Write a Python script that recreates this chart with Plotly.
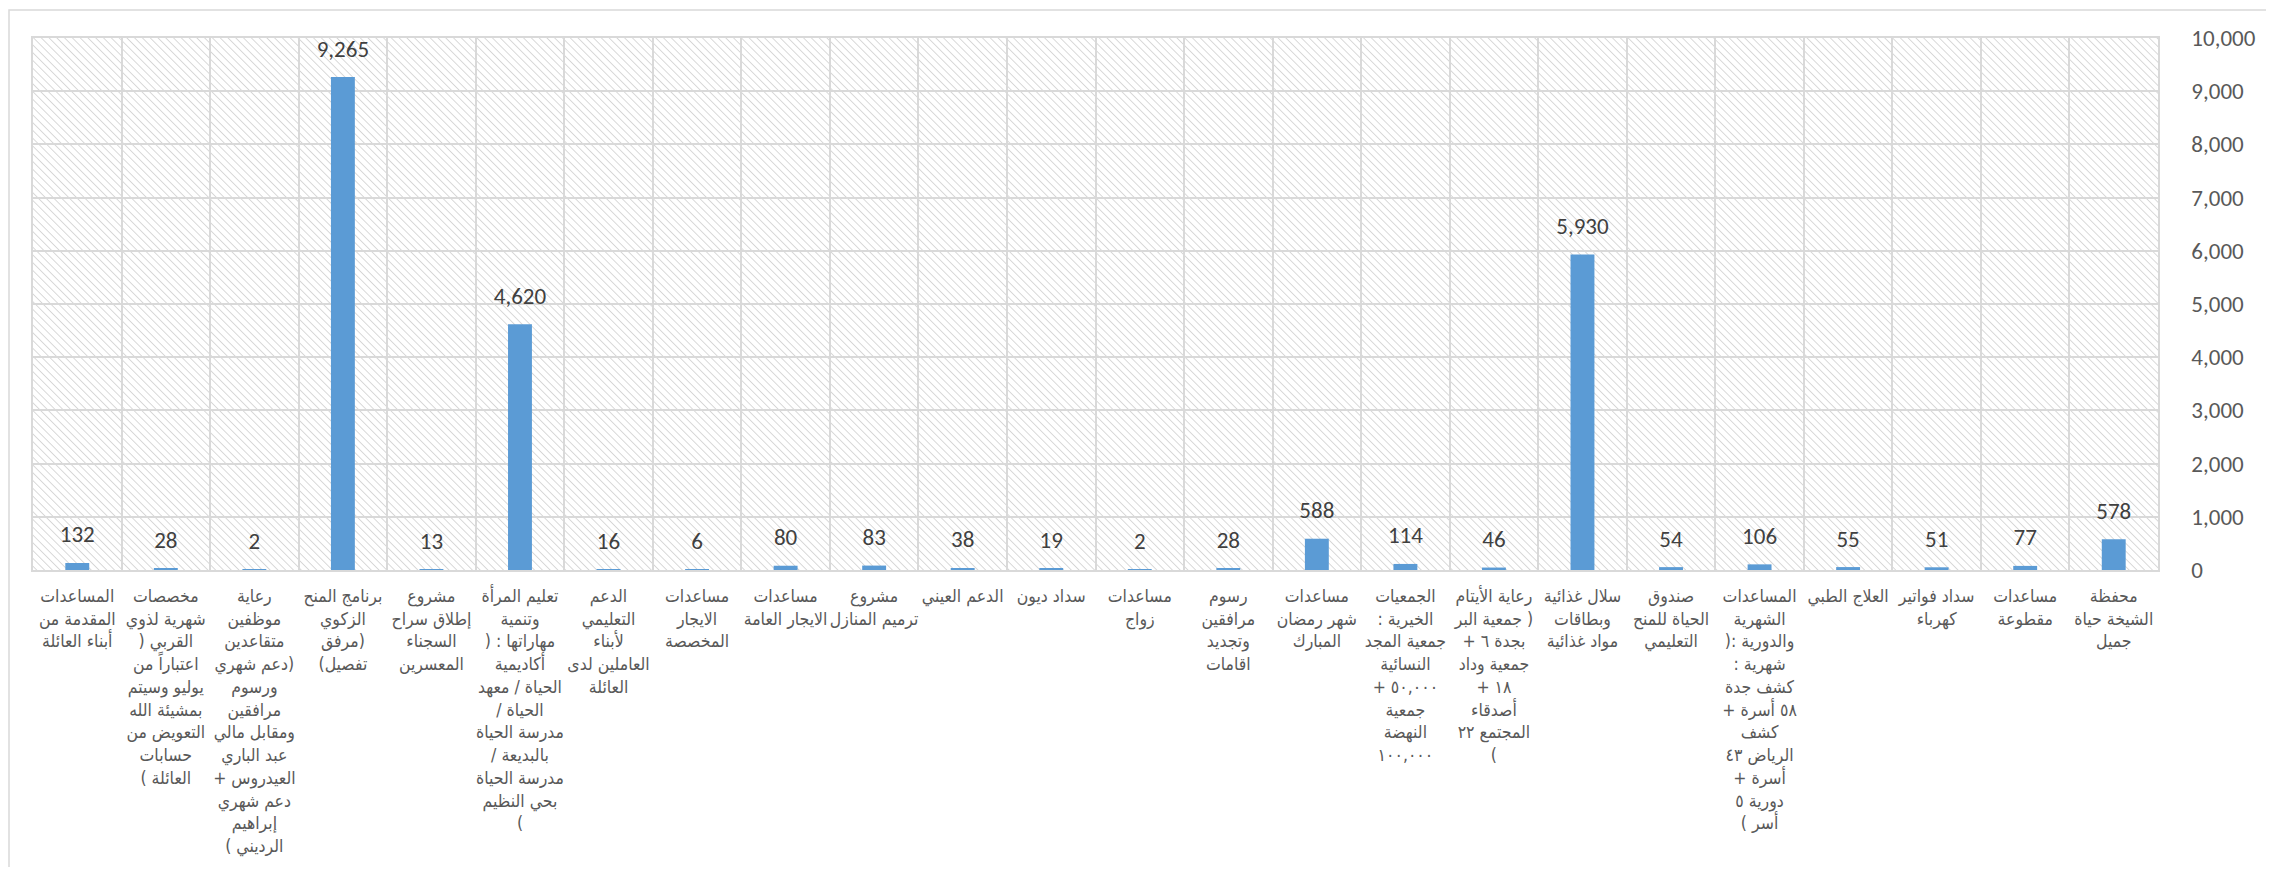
import base64
import plotly.graph_objects as go

# ---- data ----
category_lines = [
    ["المساعدات", "المقدمة من", "أبناء العائلة"],
    ["مخصصات", "شهرية لذوي", "القربي (", "اعتباراً من", "يوليو وسيتم", "بمشيئة الله", "التعويض من", "حسابات", "العائلة )"],
    ["رعاية", "موظفين", "متقاعدين", "(دعم شهري", "ورسوم", "مرافقين", "ومقابل مالي", "عبد الباري", "العيدروس +", "دعم شهري", "إبراهيم", "الرديني )"],
    ["برنامج المنح", "الزكوي", "(مرفق", "تفصيل)"],
    ["مشروع", "إطلاق سراح", "السجناء", "المعسرين"],
    ["تعليم المرأة", "وتنمية", "مهاراتها : (", "أكاديمية", "الحياة / معهد", "الحياة /", "مدرسة الحياة", "بالبديعة /", "مدرسة الحياة", "بحي النظيم", ")"],
    ["الدعم", "التعليمي", "لأبناء", "العاملين لدى", "العائلة"],
    ["مساعدات", "الايجار", "المخصصة"],
    ["مساعدات", "الايجار العامة"],
    ["مشروع", "ترميم المنازل"],
    ["الدعم العيني"],
    ["سداد ديون"],
    ["مساعدات", "زواج"],
    ["رسوم", "مرافقين", "وتجديد", "اقامات"],
    ["مساعدات", "شهر رمضان", "المبارك"],
    ["الجمعيات", "الخيرية :", "جمعية المجد", "النسائية", "٥٠,٠٠٠ +", "جمعية", "النهضة", "١٠٠,٠٠٠"],
    ["رعاية الأيتام", "( جمعية البر", "بجدة ٦ +", "جمعية وداد", "١٨ +", "أصدقاء", "المجتمع ٢٢", ")"],
    ["سلال غذائية", "وبطاقات", "مواد غذائية"],
    ["صندوق", "الحياة للمنح", "التعليمي"],
    ["المساعدات", "الشهرية", "والدورية :(", "شهرية :", "كشف جدة", "٥٨ أسرة +", "كشف", "الرياض ٤٣", "أسرة +", "دورية ٥", "أسر )"],
    ["العلاج الطبي"],
    ["سداد فواتير", "كهرباء"],
    ["مساعدات", "مقطوعة"],
    ["محفظة", "الشيخة حياة", "جميل"],
]

values = [132, 28, 2, 9265, 13, 4620, 16, 6, 80, 83, 38, 19, 2, 28,
          588, 114, 46, 5930, 54, 106, 55, 51, 77, 578]

y_ticks = [0, 1000, 2000, 3000, 4000, 5000, 6000, 7000, 8000, 9000, 10000]

# ---- build ----
RLM = "\u200f"
categories = ["<br>".join(RLM + ln + RLM for ln in lines) for lines in category_lines]

# page body has an 8px margin; size the figure so it fits the 2274x875 window
W, H = 2258, 859
ML, MT = 25, 30
MR = W - (2158 - 8)
MB = H - (570 - 8)
PW, PH = W - ML - MR, H - MT - MB

hatch_svg = f'''<svg xmlns="http://www.w3.org/2000/svg" width="{PW}" height="{PH}" viewBox="0 0 {PW} {PH}">
<defs><pattern id="h" width="5.5" height="5.5" patternUnits="userSpaceOnUse" patternTransform="rotate(-45)">
<line x1="0" y1="0" x2="0" y2="5.5" stroke="#d0d0d0" stroke-width="1.6"/></pattern></defs>
<rect width="{PW}" height="{PH}" fill="white"/>
<rect width="{PW}" height="{PH}" fill="url(#h)"/></svg>'''
hatch_src = "data:image/svg+xml;base64," + base64.b64encode(hatch_svg.encode()).decode()

fig = go.Figure()
fig.add_trace(go.Bar(
    x=categories, y=values,
    marker=dict(color="#5b9bd5", line=dict(width=0)),
    hoverinfo="skip",
))
# value labels, lifted above each bar by an invisible marker
fig.add_trace(go.Scatter(
    x=categories, y=values, mode="markers+text",
    marker=dict(size=22, opacity=0),
    text=[f"{v:,}" for v in values], textposition="top center",
    textfont=dict(family="Calibri, Carlito, Lato, sans-serif", size=23, color="#404040"),
    cliponaxis=False, hoverinfo="skip",
))

fig.update_layout(
    width=W, height=H,
    margin=dict(l=ML, r=MR, t=MT, b=MB, pad=0, autoexpand=False),
    paper_bgcolor="white", plot_bgcolor="rgba(0,0,0,0)",
    bargap=0.73, showlegend=False,
    images=[dict(source=hatch_src, xref="paper", yref="paper", x=0, y=1,
                 sizex=1, sizey=1, xanchor="left", yanchor="top",
                 sizing="stretch", layer="below")],
    shapes=[dict(type="rect", xref="paper", yref="paper",
                 x0=(1 - ML) / PW, x1=(W + 20 - ML) / PW,
                 y0=-(MB + 20) / PH, y1=1 + (MT - 2) / PH,
                 line=dict(color="#d9d9d9", width=1.5), fillcolor="rgba(0,0,0,0)", layer="below")],
)

fig.update_xaxes(
    type="category", range=[-0.5, len(values) - 0.5], automargin=False,
    showgrid=True, gridcolor="#d9d9d9", gridwidth=1.5, tickson="boundaries",
    showline=True, linecolor="#d9d9d9", linewidth=1.5, mirror=True,
    ticks="", tickangle=0, ticklabelstandoff=9,
    tickfont=dict(family="DejaVu Sans Condensed, DejaVu Sans, sans-serif", size=17.5, color="#595959"),
)
fig.update_yaxes(
    side="right", range=[0, 10000], tickvals=y_ticks, tickformat=",", automargin=False,
    showgrid=True, gridcolor="#d9d9d9", gridwidth=1.5,
    showline=True, linecolor="#d9d9d9", linewidth=1.5, mirror=True,
    zeroline=False, ticks="", ticklabelstandoff=27,
    tickfont=dict(family="Calibri, Carlito, Lato, sans-serif", size=23, color="#595959"),
)

fig.write_html("out.html")
